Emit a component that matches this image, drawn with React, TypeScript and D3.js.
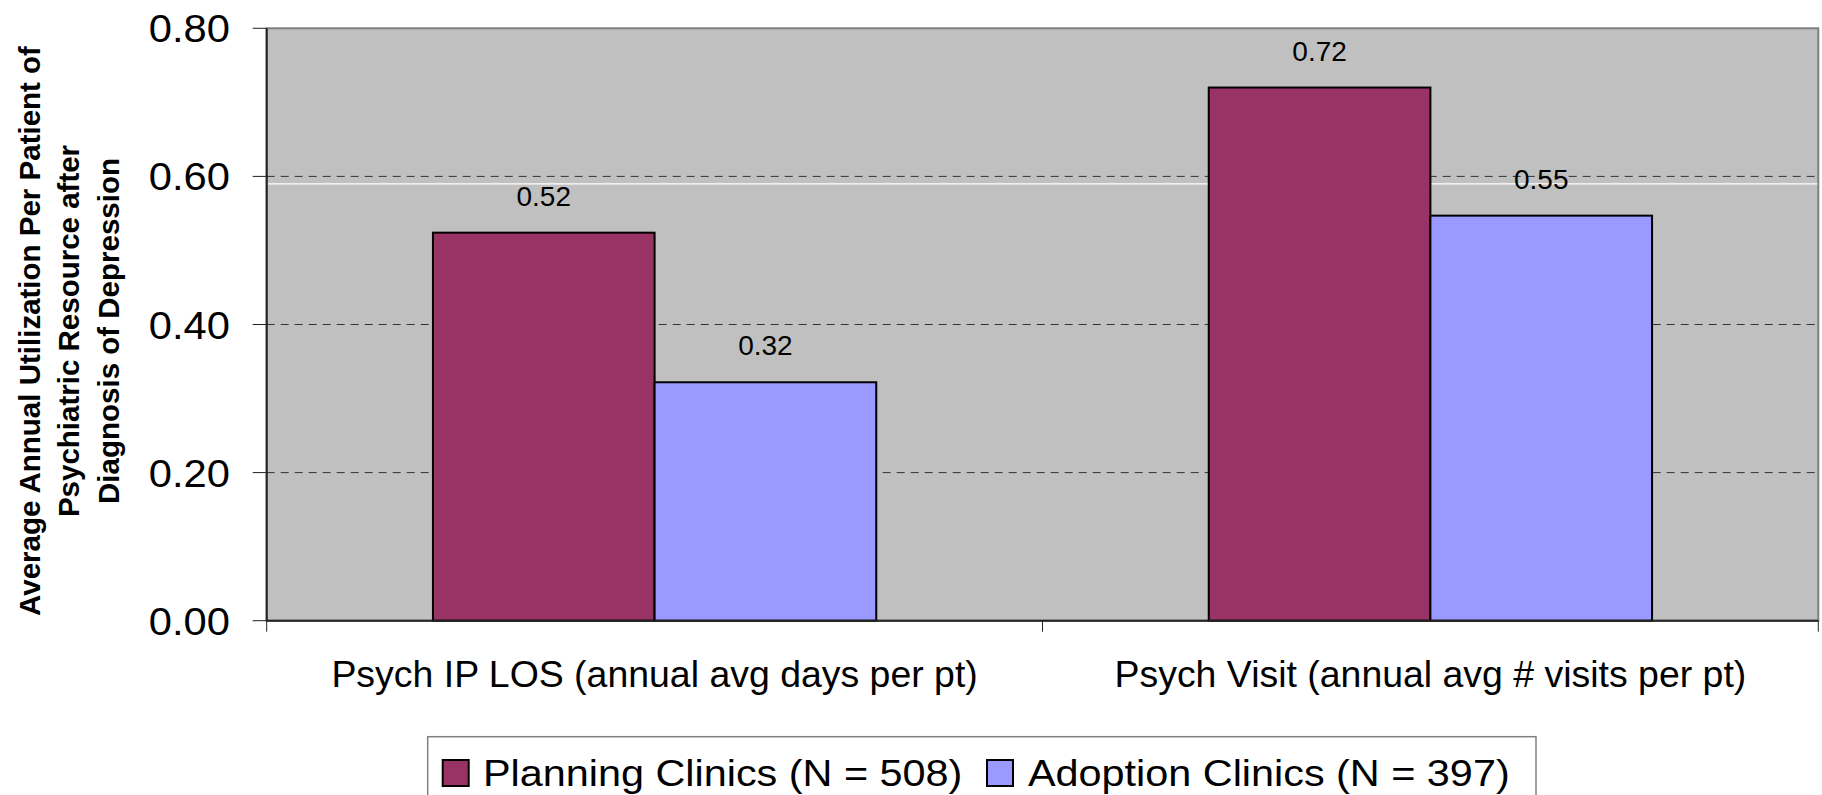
import React from "react";
import * as d3 from "d3";

const categories = [
  "Psych IP LOS (annual avg days per pt)",
  "Psych Visit (annual avg # visits per pt)",
];
const seriesNames = ["Planning Clinics (N = 508)", "Adoption Clinics (N = 397)"];
const planningValues = [0.524, 0.72];
const adoptionValues = [0.322, 0.547];
const seriesColors = ["#993366", "#9999FF"];
const yTicks = [0, 0.2, 0.4, 0.6, 0.8];
const gridTicks = [0.2, 0.4, 0.6];
const whiteLineValue = 0.59;
const yTitleLines = [
  "Average Annual Utilization Per Patient of",
  "Psychiatric Resource after",
  "Diagnosis of Depression",
];

const W = 1822;
const H = 795;
const plot = { left: 266.7, right: 1818.3, top: 28.3, bottom: 620.7 };
const FONT = "'Liberation Sans', Arial, Helvetica, sans-serif";

export default function App() {
  const seriesValues = [planningValues, adoptionValues];
  const x0 = d3
    .scaleBand<string>()
    .domain(categories)
    .range([plot.left, plot.right])
    .padding(0);
  const x1 = d3
    .scaleBand<number>()
    .domain(d3.range(seriesNames.length))
    .range([0, x0.bandwidth()])
    .paddingInner(0)
    .paddingOuter(0.75);
  const y = d3.scaleLinear().domain([0, 0.8]).range([plot.bottom, plot.top]);
  const fmt = d3.format(".2f");

  const xTickPositions = [plot.left, ...categories.map((c) => (x0(c) as number) + x0.bandwidth())];

  const legendItems = [
    { sx: 442.7, tx: 483 },
    { sx: 987, tx: 1028 },
  ];

  return (
    <div style={{ position: "absolute", left: 0, top: 0, background: "#fff" }}>
      <svg width={W} height={H} style={{ display: "block", fontFamily: FONT }}>
        <rect x={0} y={0} width={W} height={H} fill="#ffffff" />
        {/* plot area */}
        <rect
          x={plot.left}
          y={plot.top}
          width={plot.right - plot.left}
          height={plot.bottom - plot.top}
          fill="#C0C0C0"
          stroke="#808080"
          strokeWidth={2}
        />
        {/* gridlines */}
        {gridTicks.map((t) => (
          <line
            key={"g" + t}
            x1={plot.left}
            x2={plot.right - 1}
            y1={y(t)}
            y2={y(t)}
            stroke="#333"
            strokeWidth={1}
            strokeDasharray="8,6"
          />
        ))}
        <line
          x1={plot.left + 1}
          x2={plot.right - 1}
          y1={y(whiteLineValue)}
          y2={y(whiteLineValue)}
          stroke="#ffffff"
          strokeWidth={1.2}
        />
        {/* bars */}
        {categories.map((c, ci) =>
          seriesNames.map((s, si) => {
            const v = seriesValues[si][ci];
            const bx = (x0(c) as number) + (x1(si) as number);
            return (
              <rect
                key={c + s}
                x={bx}
                y={y(v)}
                width={x1.bandwidth()}
                height={plot.bottom - y(v)}
                fill={seriesColors[si]}
                stroke="#000"
                strokeWidth={2}
              />
            );
          })
        )}
        {/* value labels */}
        {categories.map((c, ci) =>
          seriesNames.map((s, si) => {
            const v = seriesValues[si][ci];
            const cx = (x0(c) as number) + (x1(si) as number) + x1.bandwidth() / 2;
            return (
              <text
                key={"l" + c + s}
                x={cx}
                y={y(v) - 27}
                textAnchor="middle"
                fontSize={28}
                fill="#000"
              >
                {fmt(v)}
              </text>
            );
          })
        )}
        {/* axes */}
        <line x1={plot.left} x2={plot.left} y1={plot.top} y2={plot.bottom} stroke="#222" strokeWidth={2} />
        <line x1={plot.left} x2={plot.right} y1={plot.bottom} y2={plot.bottom} stroke="#222" strokeWidth={2} />
        {yTicks.map((t) => (
          <g key={"yt" + t}>
            <line x1={plot.left - 14} x2={plot.left} y1={y(t)} y2={y(t)} stroke="#222" strokeWidth={1} />
            <text
              transform={`translate(230,${y(t) + 14}) scale(1.07,1)`}
              textAnchor="end"
              fontSize={39}
              fill="#000"
            >
              {fmt(t)}
            </text>
          </g>
        ))}
        {xTickPositions.map((xp, i) => (
          <line key={"xt" + i} x1={xp} x2={xp} y1={plot.bottom} y2={plot.bottom + 11} stroke="#222" strokeWidth={1} />
        ))}
        {categories.map((c) => (
          <text
            key={"c" + c}
            transform={`translate(${(x0(c) as number) + x0.bandwidth() / 2},687) scale(1.04,1)`}
            textAnchor="middle"
            fontSize={36}
            fill="#000"
          >
            {c}
          </text>
        ))}
        {/* y title */}
        {yTitleLines.map((line, i) => (
          <text
            key={"yl" + i}
            transform={`translate(${[39.5, 78.5, 119][i]},331) rotate(-90)`}
            textAnchor="middle"
            fontSize={29.5}
            fontWeight="bold"
            fill="#000"
          >
            {line}
          </text>
        ))}
        {/* legend */}
        <rect x={427.7} y={736.7} width={1108.3} height={80} fill="#fff" stroke="#808080" strokeWidth={1.5} />
        {seriesNames.map((s, i) => (
          <g key={"lg" + s}>
            <rect
              x={legendItems[i].sx}
              y={760}
              width={26}
              height={26}
              fill={seriesColors[i]}
              stroke="#000"
              strokeWidth={2}
            />
            <text
              transform={`translate(${legendItems[i].tx},786) scale(1.14,1)`}
              fontSize={36.3}
              fill="#000"
            >
              {s}
            </text>
          </g>
        ))}
      </svg>
    </div>
  );
}
